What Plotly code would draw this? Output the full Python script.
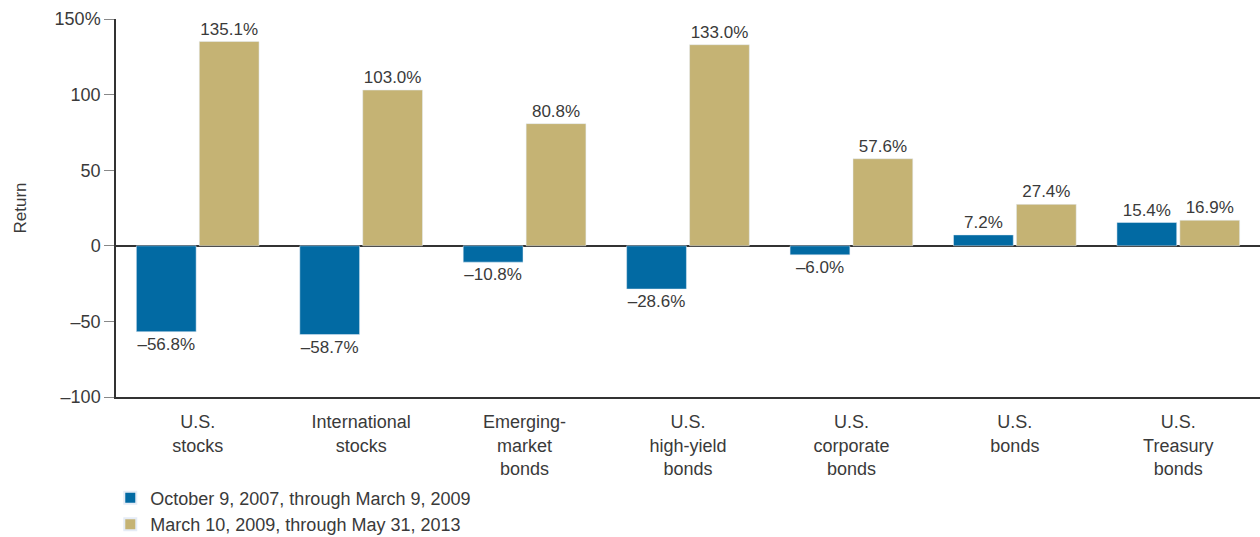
import plotly.graph_objects as go

BLUE = "#026aa3"
GOLD = "#c5b374"
TEXT = "#3a3a3a"
FONT = "Liberation Sans, Arial, sans-serif"

categories = [
    "U.S.<br>stocks",
    "International<br>stocks",
    "Emerging-<br>market<br>bonds",
    "U.S.<br>high-yield<br>bonds",
    "U.S.<br>corporate<br>bonds",
    "U.S.<br>bonds",
    "U.S.<br>Treasury<br>bonds",
]
crash_returns = [-56.8, -58.7, -10.8, -28.6, -6.0, 7.2, 15.4]
recovery_returns = [135.1, 103.0, 80.8, 133.0, 57.6, 27.4, 16.9]
crash_label = "October 9, 2007, through March 9, 2009"
recovery_label = "March 10, 2009, through May 31, 2013"
tick_vals = [-100, -50, 0, 50, 100, 150]
tick_text = ["\u2013100", "\u201350", "0", "50", "100", "150%"]


def pct_text(values):
    return [f"{v:.1f}%".replace("-", "\u2013") for v in values]


fig = go.Figure()
fig.add_bar(
    x=categories,
    y=crash_returns,
    name=crash_label,
    marker_color=BLUE,
    text=pct_text(crash_returns),
    textposition="outside",
    cliponaxis=False,
)
fig.add_bar(
    x=categories,
    y=recovery_returns,
    name=recovery_label,
    marker_color=GOLD,
    text=pct_text(recovery_returns),
    textposition="outside",
    cliponaxis=False,
)
fig.update_traces(textfont={"size": 17, "color": TEXT, "family": FONT})

fig.update_layout(
    width=1260,
    height=537,
    margin={"l": 116, "r": 0, "t": 19, "b": 140, "autoexpand": False},
    plot_bgcolor="white",
    paper_bgcolor="white",
    font={"family": FONT, "size": 18, "color": TEXT},
    barmode="group",
    bargap=0.23,
    bargroupgap=0.05,
    showlegend=True,
    legend={
        "orientation": "v",
        "x": -0.005,
        "xanchor": "left",
        "yref": "container",
        "y": 0.107,
        "yanchor": "top",
        "font": {"size": 18, "color": TEXT},
        "itemsizing": "constant",
        "tracegroupgap": 0,
    },
)
fig.update_xaxes(
    showline=True,
    linecolor="#333333",
    linewidth=1.5,
    ticks="outside",
    ticklen=8,
    tickcolor="rgba(0,0,0,0)",
    tickfont={"size": 18, "color": TEXT},
    showgrid=False,
)
fig.update_yaxes(
    range=[-100, 150],
    tickvals=tick_vals,
    ticktext=tick_text,
    ticks="outside",
    ticklen=10,
    tickcolor="#888888",
    showline=True,
    linecolor="#333333",
    linewidth=1.5,
    showgrid=False,
    zeroline=True,
    zerolinecolor="#333333",
    zerolinewidth=1.5,
    tickfont={"size": 18, "color": TEXT},
    title={"text": "Return", "font": {"size": 17, "color": TEXT}, "standoff": 24},
)

# drop the browser's default body margin so the figure sits at the page origin
fig.write_html(
    "out.html",
    config={"displayModeBar": False},
    post_script="document.body.style.margin='0';",
)
